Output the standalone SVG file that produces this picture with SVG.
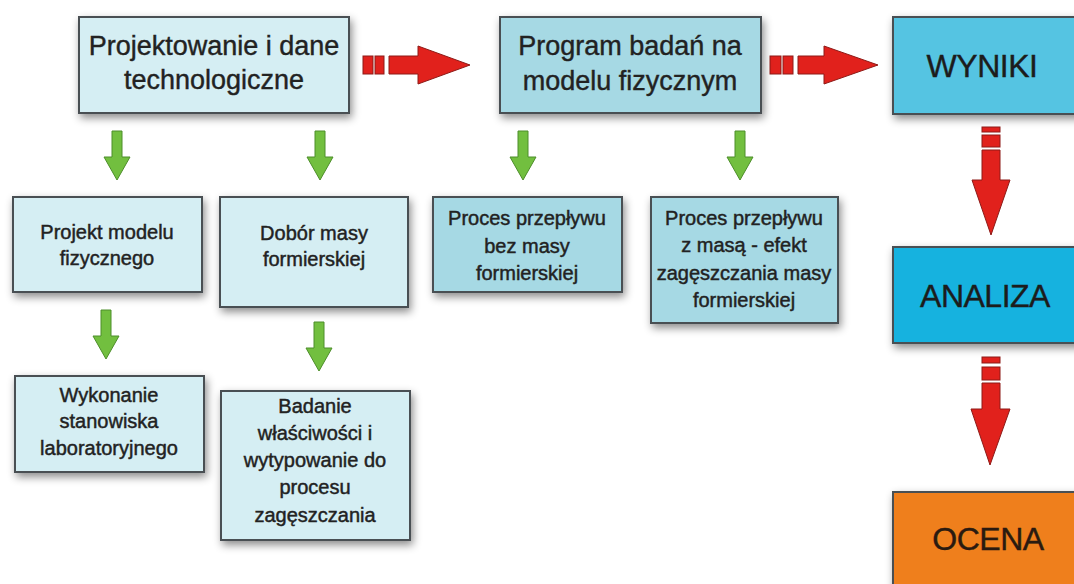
<svg xmlns="http://www.w3.org/2000/svg" width="1074" height="584" viewBox="0 0 1074 584">
  <defs>
    <filter id="shadow" x="-10%" y="-15%" width="125%" height="140%">
      <feDropShadow dx="2" dy="4" stdDeviation="4.5" flood-color="#000" flood-opacity="0.45"/>
    </filter>
    <!-- green down arrow, centred on x=0, 49 px long -->
    <path id="greenArrow" d="M-5,0 H5 V26 H13 L0,49 L-13,26 H-5 Z"/>
  </defs>
  <style>
    .box { stroke: #4a4f52; stroke-width: 2; filter: url(#shadow); }
    .pale { fill: #d5eef3; }
    .mid { fill: #a6d9e4; }
    .wyniki { fill: #55c4e2; }
    .analiza { fill: #12b2df; }
    .ocena { fill: #ef7f1c; }
    text { font-family: "Liberation Sans", Arial, sans-serif; fill: #222; text-anchor: middle; stroke: #222; }
    .big { font-size: 27px; stroke-width: 0.4; }
    .small { font-size: 20px; stroke-width: 0.45; }
    .head { font-size: 32px; fill: #1c1c1c; stroke: #1c1c1c; stroke-width: 0.4; letter-spacing: -0.5px; }
    .red { fill: #e1211c; stroke: #8e1a17; stroke-width: 1; }
    .green { fill: #72bf3f; stroke: #4d8e2a; stroke-width: 1; }
  </style>

  <rect width="1074" height="584" fill="#ffffff"/>

  <g id="connectors">
    <!-- main flow, red -->
    <g class="red">
      <rect x="363" y="56" width="10" height="18"/>
      <rect x="375" y="56" width="9" height="18"/>
      <path d="M389,56 H418 V46 L470,65 L418,84 V74 H389 Z"/>
      <rect x="770" y="56" width="11" height="18"/>
      <rect x="783" y="56" width="10" height="18"/>
      <path d="M798,56 H824 V46 L878,65 L824,84 V74 H798 Z"/>
      <rect x="982" y="127" width="18" height="5"/>
      <rect x="982" y="135" width="18" height="12"/>
      <path d="M982,150 H1000 V180 H1010 L991,235 L972,180 H982 Z"/>
      <rect x="982" y="357" width="18" height="6"/>
      <rect x="982" y="367" width="18" height="13"/>
      <path d="M982,383 H1000 V409 H1010 L990,465 L971,409 H982 Z"/>
    </g>
    <!-- branch arrows, green -->
    <g class="green">
      <use href="#greenArrow" x="117" y="131"/>
      <use href="#greenArrow" x="320" y="131"/>
      <use href="#greenArrow" x="523" y="131"/>
      <use href="#greenArrow" x="740" y="131"/>
      <use href="#greenArrow" x="106" y="310"/>
      <use href="#greenArrow" x="319" y="322"/>
    </g>
  </g>

  <g id="projektowanie">
    <rect class="box pale" x="79" y="17" width="270" height="96"/>
    <text class="big" x="214" y="55">Projektowanie i dane</text>
    <text class="big" x="214" y="89">technologiczne</text>
  </g>

  <g id="program">
    <rect class="box mid" x="500" y="17" width="261" height="96"/>
    <text class="big" x="630" y="55">Program badań na</text>
    <text class="big" x="630" y="90">modelu fizycznym</text>
  </g>

  <g id="wyniki">
    <rect class="box wyniki" x="893" y="17" width="200" height="97"/>
    <text class="head" x="982" y="77">WYNIKI</text>
  </g>

  <g id="analiza">
    <rect class="box analiza" x="893" y="247" width="200" height="96"/>
    <text class="head" x="985" y="307">ANALIZA</text>
  </g>

  <g id="ocena">
    <rect class="box ocena" x="893" y="492" width="200" height="110"/>
    <text class="head" x="988" y="550" style="fill:#2a1a10;stroke:#2a1a10">OCENA</text>
  </g>

  <g id="projekt-modelu">
    <rect class="box pale" x="13" y="197" width="189" height="95"/>
    <text class="small" x="107" y="239">Projekt modelu</text>
    <text class="small" x="107" y="265">fizycznego</text>
  </g>

  <g id="dobor-masy">
    <rect class="box pale" x="220" y="197" width="188" height="110"/>
    <text class="small" x="314" y="240">Dobór masy</text>
    <text class="small" x="314" y="266">formierskiej</text>
  </g>

  <g id="proces-bez-masy">
    <rect class="box mid" x="433" y="197" width="189" height="95"/>
    <text class="small" x="527" y="225">Proces przepływu</text>
    <text class="small" x="527" y="253">bez masy</text>
    <text class="small" x="527" y="280">formierskiej</text>
  </g>

  <g id="proces-z-masa">
    <rect class="box mid" x="651" y="197" width="187" height="126"/>
    <text class="small" x="744" y="225">Proces przepływu</text>
    <text class="small" x="744" y="252">z masą - efekt</text>
    <text class="small" x="744" y="280">zagęszczania masy</text>
    <text class="small" x="744" y="307">formierskiej</text>
  </g>

  <g id="wykonanie">
    <rect class="box pale" x="15" y="376" width="189" height="96"/>
    <text class="small" x="109" y="402">Wykonanie</text>
    <text class="small" x="109" y="428">stanowiska</text>
    <text class="small" x="109" y="455">laboratoryjnego</text>
  </g>

  <g id="badanie">
    <rect class="box pale" x="221" y="391" width="189" height="149"/>
    <text class="small" x="315" y="413">Badanie</text>
    <text class="small" x="315" y="440">właściwości i</text>
    <text class="small" x="315" y="467">wytypowanie do</text>
    <text class="small" x="315" y="494">procesu</text>
    <text class="small" x="315" y="522">zagęszczania</text>
  </g>
</svg>
